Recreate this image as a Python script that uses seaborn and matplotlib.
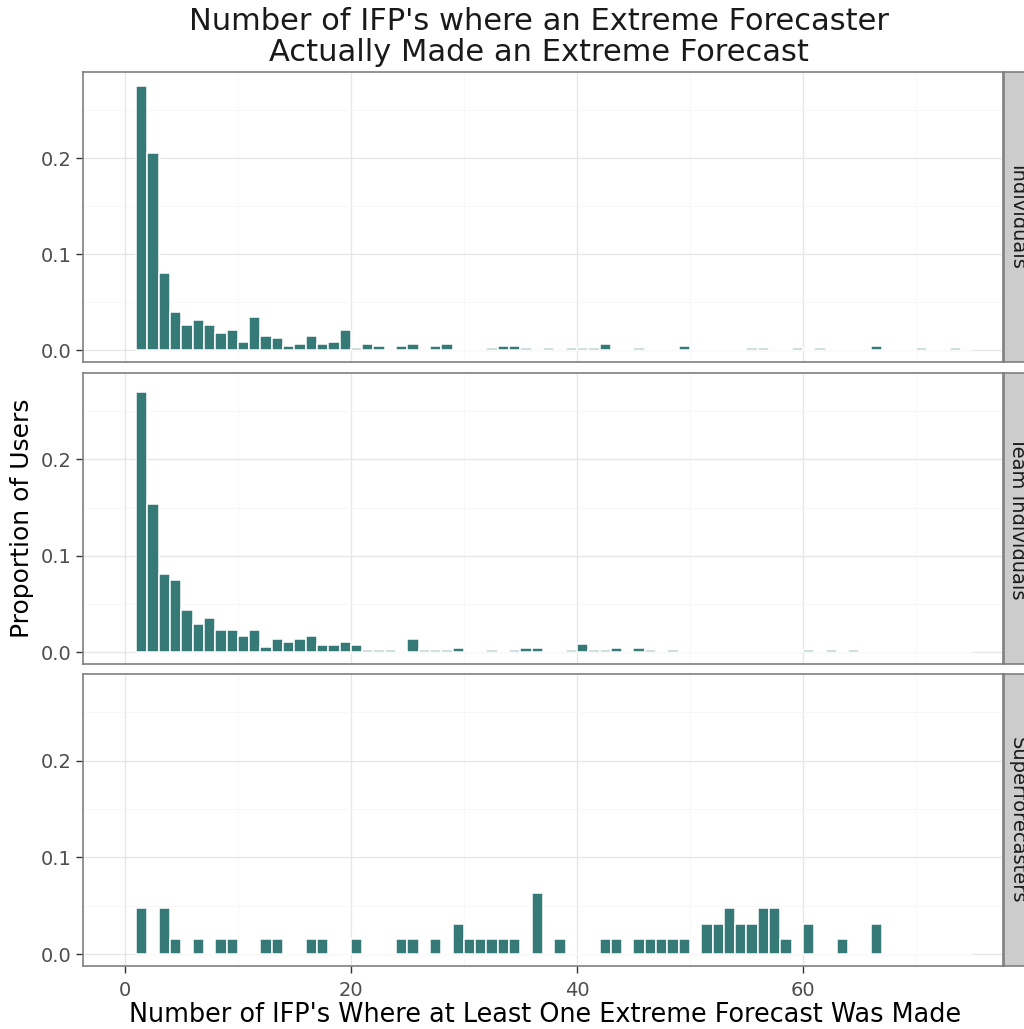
import numpy as np
import pandas as pd
import matplotlib
matplotlib.use('Agg')
import matplotlib.pyplot as plt
import seaborn as sns

# proportion of users per number of IFPs
indiv_ifps = [1, 2, 3, 4, 5, 6, 7, 8, 9, 10, 11, 12, 13, 14, 15, 16, 17, 18, 19, 20, 21, 22,
              24, 25, 27, 28, 32, 33, 34, 35, 37, 39, 40, 41, 42, 45, 49, 55, 56, 59, 61, 66, 70, 73]
indiv_prop = [0.275, 0.205, 0.080, 0.040, 0.026, 0.032, 0.026, 0.018, 0.021, 0.009, 0.035,
              0.015, 0.013, 0.0045, 0.007, 0.015, 0.007, 0.009, 0.021, 0.0022, 0.007, 0.0045,
              0.0045, 0.007, 0.0045, 0.007, 0.0022, 0.0045, 0.0045, 0.0022, 0.0022, 0.0022,
              0.0022, 0.0022, 0.007, 0.0022, 0.0045, 0.0022, 0.0022, 0.0022, 0.0022, 0.0045,
              0.0022, 0.0022]

team_ifps = [1, 2, 3, 4, 5, 6, 7, 8, 9, 10, 11, 12, 13, 14, 15, 16, 17, 18, 19, 20, 21, 22, 23,
             25, 26, 27, 28, 29, 32, 34, 35, 36, 39, 40, 41, 42, 43, 45, 46, 48, 60, 62, 64]
team_prop = [0.270, 0.154, 0.081, 0.075, 0.044, 0.029, 0.035, 0.023, 0.023, 0.017, 0.023,
             0.005, 0.014, 0.011, 0.014, 0.017, 0.008, 0.0075, 0.011, 0.008, 0.0022, 0.0022,
             0.0022, 0.0135, 0.0022, 0.0022, 0.0022, 0.0045, 0.0022, 0.0022, 0.0045, 0.0045,
             0.0022, 0.0085, 0.0022, 0.0022, 0.0045, 0.0045, 0.0022, 0.0022, 0.0022, 0.0022,
             0.0022]

super_ifps = [1, 3, 4, 6, 8, 9, 12, 13, 16, 17, 20, 24, 25, 27, 29, 30, 31, 32, 33, 34, 36, 38,
              42, 43, 45, 46, 47, 48, 49, 51, 52, 53, 54, 55, 56, 57, 58, 60, 63, 66]
super_prop = [0.0476, 0.0476, 0.0159, 0.0159, 0.0159, 0.0159, 0.0159, 0.0159, 0.0159, 0.0159,
              0.0159, 0.0159, 0.0159, 0.0159, 0.0317, 0.0159, 0.0159, 0.0159, 0.0159, 0.0159,
              0.0635, 0.0159, 0.0159, 0.0159, 0.0159, 0.0159, 0.0159, 0.0159, 0.0159, 0.0317,
              0.0317, 0.0476, 0.0317, 0.0317, 0.0476, 0.0476, 0.0159, 0.0317, 0.0159, 0.0317]

groups = ['Individuals', 'Team Individuals', 'Superforecasters']

df = pd.concat([
    pd.DataFrame({'group': groups[0], 'ifps': indiv_ifps, 'prop': indiv_prop}),
    pd.DataFrame({'group': groups[1], 'ifps': team_ifps, 'prop': team_prop}),
    pd.DataFrame({'group': groups[2], 'ifps': super_ifps, 'prop': super_prop}),
], ignore_index=True)

sns.set_theme(style='white')
plt.rcParams['font.family'] = ['DejaVu Sans']

bar_color = '#367A78'
border = '#7F7F7F'

W, H = 1024, 1029
fig = plt.figure(figsize=(W / 100, H / 100), dpi=100)
left, right = 83, 1003
tops = [72, 373, 674]
bottoms = [362, 664, 966]

for i, g in enumerate(groups):
    ax = fig.add_axes([left / W, 1 - bottoms[i] / H, (right - left) / W, (bottoms[i] - tops[i]) / H])
    ax.set_axisbelow(True)
    sub = df[df['group'] == g]
    sns.histplot(data=sub, x='ifps', weights='prop', binwidth=1, binrange=(1, 75),
                 color=bar_color, edgecolor='white', linewidth=1.1, alpha=1, ax=ax)
    ax.set_xlim(-3.7, 77.7)
    ax.set_ylim(-0.0122, 0.2895)
    ax.set_xticks([0, 20, 40, 60])
    ax.set_xticks([10, 30, 50, 70], minor=True)
    ax.set_yticks([0.0, 0.1, 0.2])
    ax.set_yticks([0.05, 0.15, 0.25], minor=True)
    ax.set_yticklabels(['0.0', '0.1', '0.2'])
    ax.grid(which='major', color='#E6E6E6', linewidth=0.9)
    ax.grid(which='minor', color='#F6F6F6', linewidth=0.6)
    ax.set_xlabel('')
    ax.set_ylabel('')
    for s in ax.spines.values():
        s.set_color(border)
        s.set_linewidth(1.2)
    ax.tick_params(axis='y', which='major', left=True, length=5, width=1, color='#333333',
                   labelsize=14, labelcolor='#4D4D4D', pad=3)
    ax.tick_params(axis='both', which='minor', length=0)
    if i < 2:
        ax.tick_params(axis='x', which='major', bottom=False, labelbottom=False)
    else:
        ax.tick_params(axis='x', which='major', bottom=True, length=5, width=1, color='#333333',
                       labelsize=14, labelcolor='#4D4D4D', pad=6)

    # facet strip on the right, clipped by the figure edge as in the original
    sax = fig.add_axes([1004 / W, 1 - bottoms[i] / H, 26 / W, (bottoms[i] - tops[i]) / H])
    sax.set_facecolor('#CCCCCC')
    sax.set_xticks([])
    sax.set_yticks([])
    for s in sax.spines.values():
        s.set_color(border)
        s.set_linewidth(1.2)
    sax.text(0.5, 0.5, g, rotation=270, ha='center', va='center', fontsize=14,
             color='#1A1A1A', transform=sax.transAxes)

fig.text(539 / W, 1 - 37 / H, "Number of IFP's where an Extreme Forecaster\nActually Made an Extreme Forecast",
         ha='center', va='center', fontsize=22, linespacing=1.12, color='#1A1A1A')
fig.text(545 / W, 1 - 1015 / H, "Number of IFP's Where at Least One Extreme Forecast Was Made",
         ha='center', va='center', fontsize=18.4, color='#000000')
fig.text(22 / W, 1 - 518 / H, 'Proportion of Users', rotation=90,
         ha='center', va='center', fontsize=18, color='#000000')

fig.savefig('out.png', dpi=100)
